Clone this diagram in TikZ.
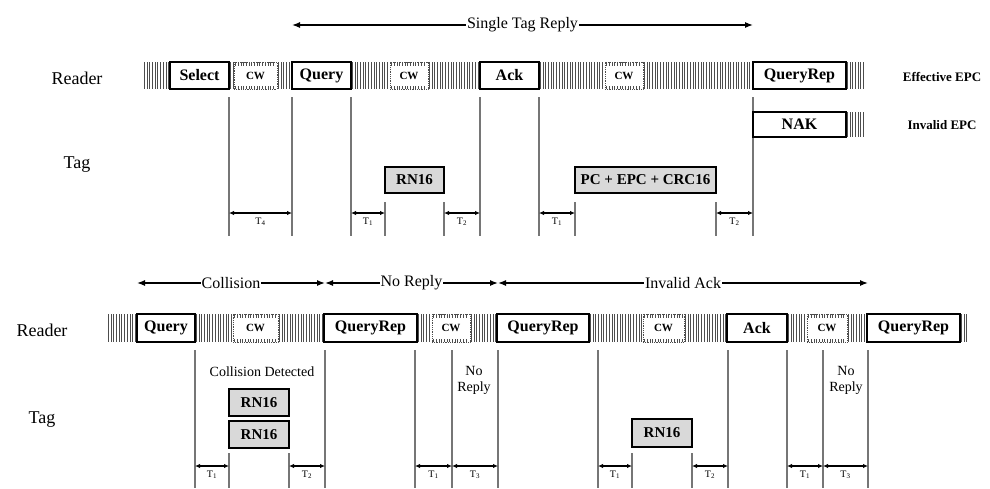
\documentclass[tikz,border=0pt]{standalone}
\usepackage{fontspec}
\setmainfont{Liberation Serif}
\usetikzlibrary{arrows.meta, positioning}
\definecolor{hatchgray}{HTML}{4D4D4D}
\definecolor{linegray}{HTML}{767676}
\definecolor{replyfill}{HTML}{D9D9D9}

% vertical hatching of the carrier: x from, x to, y top, y bottom
\newcommand{\hatch}[4]{%
  \pgfmathtruncatemacro{\nh}{(#2-#1-2.3)/2.7}%
  \foreach \i in {0,...,\nh}{%
    \draw[hatchln] ({#1+1.3+\i*2.7},#3) -- ({#1+1.3+\i*2.7},#4);}}

% continuous wave slot: name, x from, x to, y top, y bottom
\newcommand{\cwslot}[5]{%
  \node[cw, minimum width={#3-#2}, minimum height={#5-#4}] (#1) at ({(#2+#3)/2},{(#4+#5)/2}) {CW};
  \pgfmathtruncatemacro{\nc}{(#3-#2-3)/2.7}%
  \foreach \i in {0,...,\nc}{%
    \draw[hatchln] ({#2+1.5+\i*2.7},#4) -- ++(0,3.5) ({#2+1.5+\i*2.7},#5) -- ++(0,-3.5);}}

\begin{document}
\begin{tikzpicture}[x=1pt, y=-1pt,
    every node/.style={inner sep=0pt},
    hatchln/.style={line width=0.8pt, hatchgray},
    msg/.style={draw, line width=1.1pt, fill=white, font=\bfseries\fontsize{16}{18}\selectfont},
    cw/.style={draw=hatchgray, densely dotted, line width=0.8pt, fill=white, font=\bfseries\fontsize{11}{12}\selectfont},
    reply/.style={draw, line width=1.1pt, fill=replyfill, font=\bfseries\fontsize{15}{17}\selectfont},
    side/.style={font=\fontsize{18}{20}\selectfont},
    note/.style={font=\bfseries\fontsize{13}{15}\selectfont},
    info/.style={font=\fontsize{14}{16}\selectfont, align=center},
    tline/.style={line width=1.2pt, linegray},
    dim/.style={{Latex[length=5pt,width=4.5pt]}-{Latex[length=5pt,width=4.5pt]}, line width=1.4pt},
    span/.style={{Latex[length=8pt,width=6pt]}-{Latex[length=8pt,width=6pt]}, line width=1.3pt},
    tlabel/.style={below=4pt, font=\fontsize{10}{12}\selectfont},
    spanlabel/.style={fill=white, inner sep=1pt, font=\fontsize{16}{18}\selectfont}
]
\useasboundingbox (0,0) rectangle (990,488);

%% ---------------- single tag reply ----------------
\node[side] (rd1) at (77,78) {Reader};
\node[side] (tg1) at (77,165) {Tag};

\hatch{143}{170}{62}{89}
\hatch{229}{234}{62}{89}
\hatch{277}{292}{62}{89}
\hatch{351}{390}{62}{89}
\hatch{428}{480}{62}{89}
\hatch{539}{605}{62}{89}
\hatch{643}{753}{62}{89}
\hatch{846}{866}{62}{89}
\hatch{846}{866}{112}{137}

\node[msg, minimum width=59, minimum height=27] (sel) at (199.5,75.5) {Select};
\node[msg, minimum width=59, minimum height=27] (qry) at (321.5,75.5) {Query};
\node[msg, minimum width=59, minimum height=27] (ack) at (509.5,75.5) {Ack};
\node[msg, minimum width=93, minimum height=27] (qrp) at (799.5,75.5) {QueryRep};
\cwslot{cwa}{234}{277}{62}{89}
\cwslot{cwb}{390}{428}{62}{89}
\cwslot{cwc}{605}{643}{62}{89}

\node[note] (eff) at (942,77) {Effective EPC};
\node[note] (inv) at (942,125) {Invalid EPC};

% time marks
\foreach \n/\x in {a/229, b/292, c/351, f/480, g/539, j/753}
  \coordinate (t\n) at (\x,97);
\foreach \n/\x in {d/385, e/444, h/575, i/716}
  \coordinate (t\n) at (\x,202);
\foreach \n in {a,b,c,d,e,f,g,h,i,j}
  \draw[tline] (t\n) -- (t\n |- 0,236);

\node[msg, minimum width=93, minimum height=25] (nak) at (799.5,124.5) {NAK};
\node[reply, minimum width=59, minimum height=26] (rn1) at (414.5,180) {RN16};
\node[reply, minimum width=141, minimum height=26] (epc) at (645.5,180) {PC + EPC + CRC16};

\draw[dim] (ta |- 0,213) -- node[tlabel] {T\textsubscript{4}} (tb |- 0,213);
\draw[dim] (tc |- 0,213) -- node[tlabel] {T\textsubscript{1}} (td |- 0,213);
\draw[dim] (te |- 0,213) -- node[tlabel] {T\textsubscript{2}} (tf |- 0,213);
\draw[dim] (tg |- 0,213) -- node[tlabel] {T\textsubscript{1}} (th |- 0,213);
\draw[dim] (ti |- 0,213) -- node[tlabel] {T\textsubscript{2}} (tj |- 0,213);

\draw[span] (tb |- 0,25) -- node[spanlabel] {Single Tag Reply} (tj |- 0,25);

%% ---------------- collision / no reply / invalid ack ----------------
\node[side] (rd2) at (42,330) {Reader};
\node[side] (tg2) at (42,420) {Tag};

\hatch{107}{137}{314}{342}
\hatch{195}{233}{314}{342}
\hatch{278}{324}{314}{342}
\hatch{417}{432}{314}{342}
\hatch{470}{497}{314}{342}
\hatch{589}{643}{314}{342}
\hatch{684}{727}{314}{342}
\hatch{787}{807}{314}{342}
\hatch{847}{867}{314}{342}
\hatch{960}{970}{314}{342}

\node[msg, minimum width=58, minimum height=28] (qry2) at (166,328) {Query};
\node[msg, minimum width=93, minimum height=28] (qrp2) at (370.5,328) {QueryRep};
\node[msg, minimum width=92, minimum height=28] (qrp3) at (543,328) {QueryRep};
\node[msg, minimum width=60, minimum height=28] (ack2) at (757,328) {Ack};
\node[msg, minimum width=93, minimum height=28] (qrp4) at (913.5,328) {QueryRep};
\cwslot{cwd}{233}{278}{314}{342}
\cwslot{cwe}{432}{470}{314}{342}
\cwslot{cwf}{643}{684}{314}{342}
\cwslot{cwg}{807}{847}{314}{342}

% time marks
\coordinate (ba) at (137,350);
\foreach \n/\x in {b/195, e/325, f/415, g/452, h/498, i/598, l/728, m/787, n/823, o/868}
  \coordinate (b\n) at (\x,350);
\foreach \n/\x in {c/229, d/289, j/632, k/692}
  \coordinate (b\n) at (\x,453);
\foreach \n in {b,c,d,e,f,g,h,i,j,k,l,m,n,o}
  \draw[tline] (b\n) -- (b\n |- 0,488);

\node[info] (cold) at (262,372) {Collision Detected};
\node[reply, minimum width=60, minimum height=27] (rn2) at (259,402.5) {RN16};
\node[reply, minimum width=60, minimum height=27] (rn3) at (259,434.5) {RN16};
\node[info] (nr1) at (474,380) {No\\Reply};
\node[reply, minimum width=60, minimum height=28] (rn4) at (662,433) {RN16};
\node[info] (nr2) at (846,380) {No\\Reply};

\draw[dim] (bb |- 0,466) -- node[tlabel] {T\textsubscript{1}} (bc |- 0,466);
\draw[dim] (bd |- 0,466) -- node[tlabel] {T\textsubscript{2}} (be |- 0,466);
\draw[dim] (bf |- 0,466) -- node[tlabel] {T\textsubscript{1}} (bg |- 0,466);
\draw[dim] (bg |- 0,466) -- node[tlabel] {T\textsubscript{3}} (bh |- 0,466);
\draw[dim] (bi |- 0,466) -- node[tlabel] {T\textsubscript{1}} (bj |- 0,466);
\draw[dim] (bk |- 0,466) -- node[tlabel] {T\textsubscript{2}} (bl |- 0,466);
\draw[dim] (bm |- 0,466) -- node[tlabel] {T\textsubscript{1}} (bn |- 0,466);
\draw[dim] (bn |- 0,466) -- node[tlabel] {T\textsubscript{3}} (bo |- 0,466);

\draw[span] (ba |- 0,283) -- node[spanlabel] {Collision} (be |- 0,283);
\draw[span] (be |- 0,283) -- node[spanlabel] {No Reply} (bh |- 0,283);
\draw[span] (bh |- 0,283) -- node[spanlabel] {Invalid Ack} (bo |- 0,283);

\end{tikzpicture}
\end{document}
